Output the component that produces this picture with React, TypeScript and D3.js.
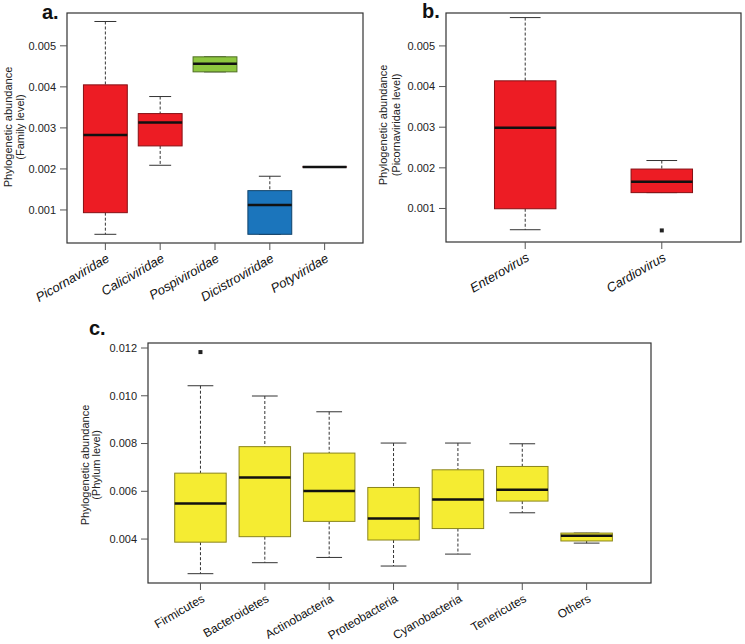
import React from 'react';
import * as d3 from 'd3';

// panel a - family level
const families = ['Picornaviridae', 'Caliciviridae', 'Pospiviroidae', 'Dicistroviridae', 'Potyviridae'];
const familyLow = [0.000407, 0.002089, 0.004366, 0.000407, 0.002049];
const familyQ1 = [0.000934, 0.002561, 0.004366, 0.000407, 0.002049];
const familyMedian = [0.002829, 0.00313, 0.004561, 0.001122, 0.002049];
const familyQ3 = [0.004049, 0.003349, 0.004732, 0.001471, 0.002049];
const familyHigh = [0.005593, 0.003764, 0.004732, 0.001822, 0.002049];
const familyColors = ['#ed1c24', '#ed1c24', '#8dc63f', '#1b75bc', '#ed1c24'];
const familyTicks = [0.001, 0.002, 0.003, 0.004, 0.005];

// panel b - picornaviridae genera
const genera = ['Enterovirus', 'Cardiovirus'];
const genusLow = [0.000477, 0.00139];
const genusQ1 = [0.000993, 0.00139];
const genusMedian = [0.002988, 0.00166];
const genusQ3 = [0.004141, 0.00197];
const genusHigh = [0.005697, 0.00218];
const genusOutliers = [[], [0.00046]];
const genusTicks = [0.001, 0.002, 0.003, 0.004, 0.005];

// panel c - phylum level
const phyla = ['Firmicutes', 'Bacteroidetes', 'Actinobacteria', 'Proteobacteria', 'Cyanobacteria', 'Tenericutes', 'Others'];
const phylumLow = [0.00255, 0.00301, 0.00323, 0.00287, 0.00337, 0.0051, 0.00383];
const phylumQ1 = [0.00387, 0.0041, 0.00474, 0.00396, 0.00444, 0.00559, 0.00392];
const phylumMedian = [0.00549, 0.00658, 0.00601, 0.00486, 0.00566, 0.00606, 0.00414];
const phylumQ3 = [0.00676, 0.00787, 0.0076, 0.00616, 0.0069, 0.00704, 0.00425];
const phylumHigh = [0.01042, 0.00999, 0.00933, 0.00802, 0.00802, 0.00799, 0.00425];
const phylumOutliers = [[0.01183], [], [], [], [], [], []];
const phylumTicks = [0.004, 0.006, 0.008, 0.01, 0.012];

const FONT = "'Liberation Sans', Arial, Helvetica, sans-serif";

type PanelProps = {
  letter: string;
  letterX: number;
  letterY: number;
  names: string[];
  low: number[];
  q1: number[];
  med: number[];
  q3: number[];
  high: number[];
  outliers?: number[][];
  colors: string[];
  ticks: number[];
  left: number;
  right: number;
  top: number;
  bottom: number;
  xDomain: [number, number];
  yDomain: [number, number];
  boxWidth: number;
  title: [string, string];
  titleX: [number, number];
  titleY: number;
  italic: boolean;
  labelSize: number;
};

function Panel(p: PanelProps) {
  const x = d3.scaleLinear().domain(p.xDomain).range([p.left, p.right]);
  const y = d3.scaleLinear().domain(p.yDomain).range([p.bottom, p.top]);
  const unit = x(1) - x(0);
  const half = (p.boxWidth * unit) / 2;
  const fmt = d3.format('.3f');

  return (
    <g fontFamily={FONT}>
      <text x={p.letterX} y={p.letterY} fontSize={20} fontWeight="bold" fill="#111">{p.letter}</text>

      {p.names.map((name, i) => {
        const cx = x(i + 1);
        const fill = p.colors[i];
        const edge = d3.color(fill)!.darker(1.6).formatHex();
        return (
          <g key={name}>
            <line x1={cx} x2={cx} y1={y(p.high[i])} y2={y(p.q3[i])} stroke="#333" strokeDasharray="3,2" />
            <line x1={cx} x2={cx} y1={y(p.q1[i])} y2={y(p.low[i])} stroke="#333" strokeDasharray="3,2" />
            <line x1={cx - half / 2} x2={cx + half / 2} y1={y(p.high[i])} y2={y(p.high[i])} stroke="#333" />
            <line x1={cx - half / 2} x2={cx + half / 2} y1={y(p.low[i])} y2={y(p.low[i])} stroke="#333" />
            <rect x={cx - half} y={y(p.q3[i])} width={half * 2} height={Math.max(0.01, y(p.q1[i]) - y(p.q3[i]))}
              fill={fill} stroke={edge} strokeWidth={1} />
            <line x1={cx - half} x2={cx + half} y1={y(p.med[i])} y2={y(p.med[i])} stroke="#111" strokeWidth={2.5} />
            {(p.outliers ? p.outliers[i] : []).map((o, j) => (
              <rect key={j} x={cx - 2} y={y(o) - 2} width={4} height={4} fill="#222" />
            ))}
          </g>
        );
      })}

      <rect x={p.left} y={p.top} width={p.right - p.left} height={p.bottom - p.top} fill="none" stroke="#333" strokeWidth={1.2} />

      {p.ticks.map((t) => (
        <g key={t}>
          <line x1={p.left - 7} x2={p.left} y1={y(t)} y2={y(t)} stroke="#555" />
          <text x={p.left - 11} y={y(t)} dy="0.35em" textAnchor="end" fontSize={11} fill="#222">{fmt(t)}</text>
        </g>
      ))}

      {p.names.map((name, i) => {
        const cx = x(i + 1);
        return (
          <g key={'l' + name}>
            <line x1={cx} x2={cx} y1={p.bottom} y2={p.bottom + 7} stroke="#555" />
            <text transform={`translate(${cx + 5},${p.bottom + 18}) rotate(-30)`} textAnchor="end"
              fontSize={p.labelSize} fontStyle={p.italic ? 'italic' : 'normal'} fill="#111">{name}</text>
          </g>
        );
      })}

      {p.title.map((line, k) => (
        <text key={k} transform={`translate(${p.titleX[k]},${p.titleY}) rotate(-90)`} textAnchor="middle"
          dominantBaseline="central" fontSize={11} fill="#222">{line}</text>
      ))}
    </g>
  );
}

export default function App() {
  return (
    <svg width={745} height={644} style={{ position: 'absolute', left: 0, top: 0, background: '#fff' }}>
      <Panel letter="a." letterX={42} letterY={19} names={families} low={familyLow} q1={familyQ1} med={familyMedian}
        q3={familyQ3} high={familyHigh} colors={familyColors} ticks={familyTicks}
        left={67} right={363} top={13} bottom={243} xDomain={[0.3, 5.7]} yDomain={[0.000195, 0.0058]}
        boxWidth={0.8} title={['Phylogenetic abundance', '(Family level)']} titleX={[8, 20]} titleY={127}
        italic labelSize={13} />
      <Panel letter="b." letterX={422} letterY={18} names={genera} low={genusLow} q1={genusQ1} med={genusMedian}
        q3={genusQ3} high={genusHigh} outliers={genusOutliers} colors={['#ed1c24', '#ed1c24']} ticks={genusTicks}
        left={446} right={741} top={13} bottom={242} xDomain={[0.42, 2.58]} yDomain={[0.000175, 0.00581]}
        boxWidth={0.45} title={['Phylogenetic abundance', '(Picornaviridae level)']} titleX={[383, 396]} titleY={125}
        italic labelSize={13} />
      <Panel letter="c." letterX={89} letterY={335} names={phyla} low={phylumLow} q1={phylumQ1} med={phylumMedian}
        q3={phylumQ3} high={phylumHigh} outliers={phylumOutliers} colors={phyla.map(() => '#f5ec32')} ticks={phylumTicks}
        left={148} right={651} top={343} bottom={583} xDomain={[0.185, 8.0]} yDomain={[0.00216, 0.01221]}
        boxWidth={0.8} title={['Phylogenetic abundance', '(Phylum level)']} titleX={[85, 96]} titleY={465}
        italic={false} labelSize={12} />
    </svg>
  );
}
